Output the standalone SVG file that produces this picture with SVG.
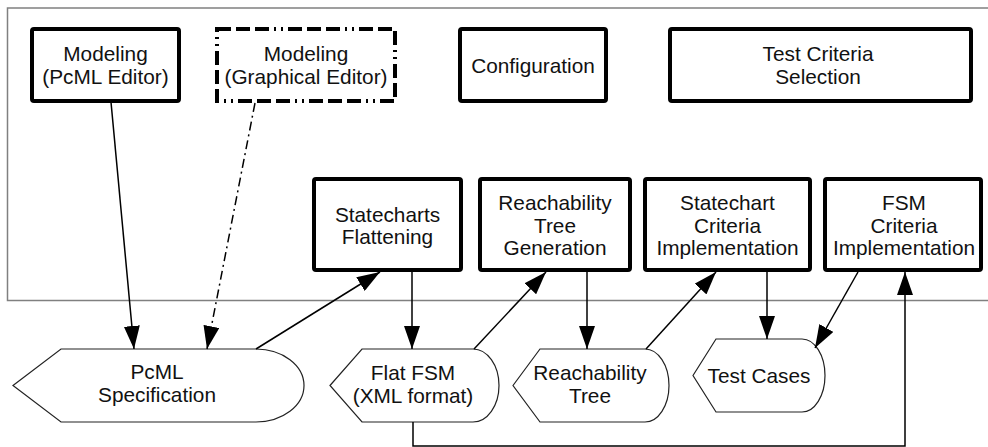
<svg xmlns="http://www.w3.org/2000/svg" width="988" height="447" viewBox="0 0 988 447">
<style>
.box{fill:#fff;stroke:#000;stroke-width:4;stroke-linejoin:round}
.dbox{fill:#fff;stroke:#000;stroke-width:4;stroke-dasharray:14,5,14,5,14,5,2,5,2,5}
.disp{fill:#fff;stroke:#222;stroke-width:1.2}
.t{font-family:"Liberation Sans",Arial,sans-serif;font-size:20.8px;fill:#111;text-anchor:middle}
.c{fill:none;stroke:#000;stroke-width:1.5}
.frame{fill:none;stroke:#808080;stroke-width:1.5}
</style>
<defs>
<marker id="ah" viewBox="0 0 23 16" refX="23" refY="8" markerWidth="23" markerHeight="16" orient="auto" markerUnits="userSpaceOnUse">
<path d="M0,0 L23,8 L0,16 Z" fill="#000"/>
</marker>
</defs>
<rect class="frame" x="7.5" y="8" width="1000" height="292.5"/>

<g id="modeling-pcml"><rect class="box" x="32" y="29" width="147" height="72" rx="2"/>
<text class="t" x="105.5" y="60.5">Modeling</text><text class="t" x="105.5" y="83.5">(PcML Editor)</text></g>
<g id="modeling-graphical"><rect class="dbox" x="217" y="29" width="178" height="72"/>
<text class="t" x="306" y="60.5">Modeling</text><text class="t" x="306" y="83.5">(Graphical Editor)</text></g>
<g id="configuration"><rect class="box" x="460" y="29" width="146" height="72" rx="2"/>
<text class="t" x="533" y="72.5">Configuration</text></g>
<g id="test-criteria-selection"><rect class="box" x="670" y="29" width="301" height="72" rx="2"/>
<text class="t" x="818" y="60.5">Test Criteria</text><text class="t" x="818" y="83.5">Selection</text></g>

<g id="statecharts-flattening"><rect class="box" x="314" y="179" width="147" height="91" rx="2"/>
<text class="t" x="387.5" y="221.5">Statecharts</text><text class="t" x="387.5" y="244">Flattening</text></g>
<g id="reachability-tree-generation"><rect class="box" x="480" y="179" width="150" height="91" rx="2"/>
<text class="t" x="555" y="210">Reachability</text><text class="t" x="555" y="232.5">Tree</text><text class="t" x="555" y="255">Generation</text></g>
<g id="statechart-criteria"><rect class="box" x="645" y="179" width="165" height="91" rx="2"/>
<text class="t" x="727.5" y="210">Statechart</text><text class="t" x="727.5" y="232.5">Criteria</text><text class="t" x="727.5" y="255">Implementation</text></g>
<g id="fsm-criteria"><rect class="box" x="825" y="179" width="156" height="91" rx="2"/>
<text class="t" x="904" y="210">FSM</text><text class="t" x="904" y="232.5">Criteria</text><text class="t" x="904" y="255">Implementation</text></g>

<g id="pcml-specification"><path class="disp" d="M13,385.5 L61,349 L256,349 A48,36.5 0 0 1 256,422 L61,422 Z"/>
<text class="t" x="157" y="379">PcML</text><text class="t" x="157" y="402">Specification</text></g>
<g id="flat-fsm"><path class="disp" d="M330,385.5 L362,349 L473,349 A26,36.5 0 0 1 473,422 L362,422 Z"/>
<text class="t" x="413" y="380">Flat FSM</text><text class="t" x="413" y="403">(XML format)</text></g>
<g id="reachability-tree"><path class="disp" d="M513,385.5 L540,349 L645,349 A24,36.5 0 0 1 645,422 L540,422 Z"/>
<text class="t" x="590" y="380">Reachability</text><text class="t" x="590" y="403">Tree</text></g>
<g id="test-cases"><path class="disp" d="M693,375.5 L716,339 L802,339 A23,36.5 0 0 1 802,412 L716,412 Z"/>
<text class="t" x="759" y="383">Test Cases</text></g>

<g id="connectors">
<line class="c" x1="111" y1="102" x2="134" y2="349" marker-end="url(#ah)"/>
<line class="c" x1="255" y1="103" x2="207" y2="349" stroke-dasharray="9,4,2,4" marker-end="url(#ah)"/>
<line class="c" x1="256" y1="349" x2="380" y2="272" marker-end="url(#ah)"/>
<line class="c" x1="412" y1="272" x2="412" y2="349" marker-end="url(#ah)"/>
<line class="c" x1="474" y1="349" x2="546" y2="272" marker-end="url(#ah)"/>
<line class="c" x1="587" y1="272" x2="587" y2="349" marker-end="url(#ah)"/>
<line class="c" x1="646" y1="349" x2="716" y2="272" marker-end="url(#ah)"/>
<line class="c" x1="767" y1="272" x2="767" y2="339" marker-end="url(#ah)"/>
<line class="c" x1="858" y1="272" x2="815" y2="348" marker-end="url(#ah)"/>
<polyline class="c" stroke="#333" points="413,422 413,446 905,446 905,272" marker-end="url(#ah)"/>
</g>
</svg>
